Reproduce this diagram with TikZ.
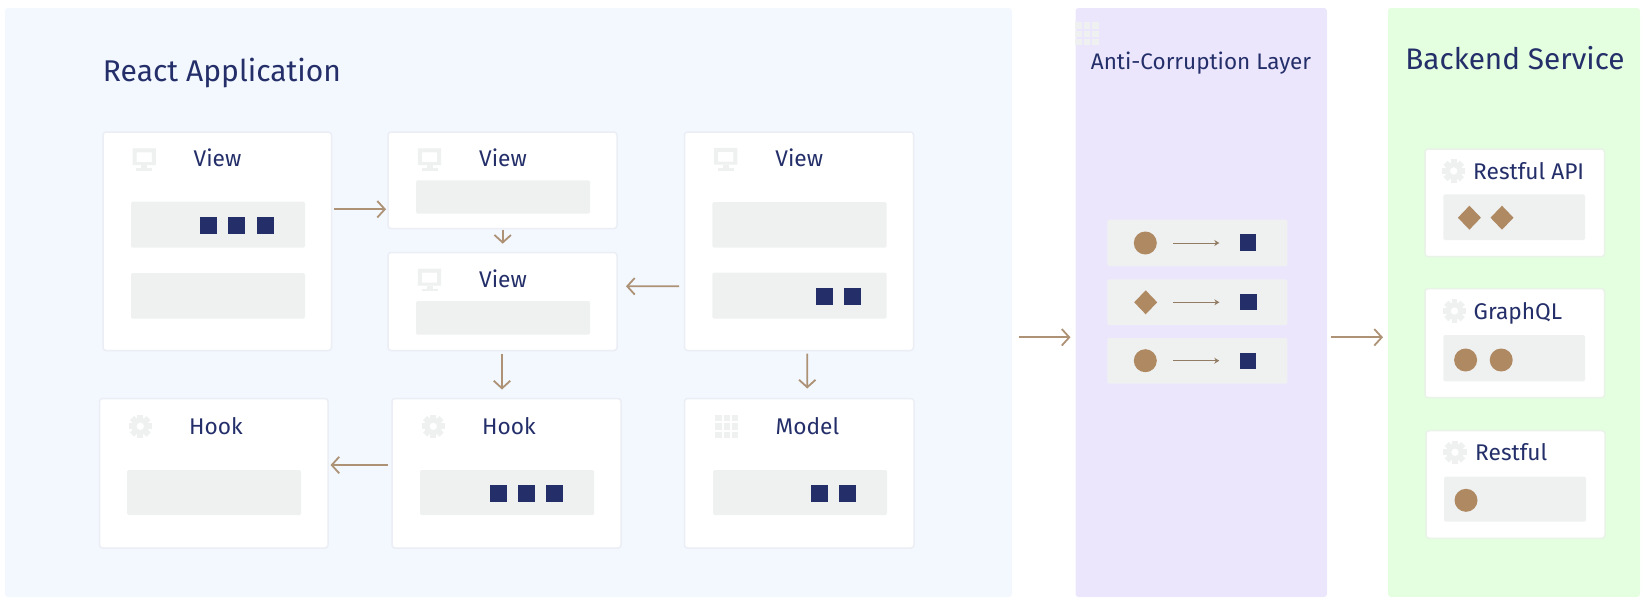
\documentclass[tikz,border=0pt]{standalone}
\usepackage{fontspec}
\setmainfont{Fira Sans}
\usetikzlibrary{arrows.meta,shapes.geometric,calc}
\definecolor{navy}{HTML}{242F6A}
\definecolor{tan}{HTML}{AE8962}
\definecolor{flowc}{HTML}{AD9276}
\definecolor{slotc}{HTML}{EFF1F1}
\definecolor{iconc}{HTML}{EEF1F0}
\definecolor{pa}{HTML}{F3F7FE}
\definecolor{pb}{HTML}{ECE6FD}
\definecolor{pc}{HTML}{E4FEE0}
\definecolor{edgea}{HTML}{EBEEF4}
\definecolor{edgeb}{HTML}{E9F3E7}
\newcommand{\boxnode}[6]{%
  \pgfmathsetmacro\bxw{#5-#3}\pgfmathsetmacro\bxh{#6-#4}%
  \node[#1,minimum width=\bxw pt,minimum height=\bxh pt] (#2) at ({(#3+#5)/2},{(#4+#6)/2}) {};}
\tikzset{
  x=1pt,y=-1pt,
  panel/.style={rectangle,rounded corners=3pt,inner sep=0pt,outer sep=0pt},
  card/.style={rectangle,rounded corners=3pt,fill=white,draw=#1,line width=1.5pt,inner sep=0pt,outer sep=0pt},
  card/.default=edgea,
  slot/.style={rectangle,rounded corners=1.5pt,fill=slotc,inner sep=0pt,outer sep=0pt},
  sq/.style={rectangle,fill=navy,minimum size=17pt,inner sep=0pt,outer sep=0pt},
  sqs/.style={rectangle,fill=navy,minimum width=16.5pt,minimum height=16.5pt,inner sep=0pt,outer sep=0pt},
  dot/.style={circle,fill=tan,minimum size=23pt,inner sep=0pt,outer sep=0pt},
  gem/.style={diamond,aspect=1,fill=tan,minimum width=23pt,minimum height=24pt,inner sep=0pt,outer sep=0pt},
  title/.style={text=navy,inner sep=0pt,font=\fontsize{#1}{#1}\selectfont,anchor=base},
  flow/.style={draw=flowc,line width=1.8pt,-{Straight Barb[length=7.5pt,width=16.5pt,line width=1.8pt]}},
  miniflow/.style={draw=flowc!85!black,line width=1pt,-{Stealth[length=5pt,width=6pt]}},
  monitoricon/.pic={
    \fill[iconc,even odd rule] (-11.6,-11.3) rectangle (11.6,5.5) (-7.6,-7.3) rectangle (7.6,2.5);
    \fill[iconc] (-3,5.5) rectangle (3,9);
    \fill[iconc] (-8,8.5) rectangle (8,11.3);
  },
  gearicon/.pic={
    \fill[iconc,even odd rule] (0,0) circle[radius=8.6] (0,0) circle[radius=3.8];
    \foreach \a in {0,45,...,315}{\fill[iconc,rotate=\a] (-2.9,-11.6) rectangle (2.9,-7.5);}
  },
  gridicon/.pic={
    \foreach \i in {-1,0,1}{\foreach \j in {-1,0,1}{
      \fill[iconc] ({\i*8.4-3.2},{\j*8.4-3.2}) rectangle ++(6.4,6.4);}}
  },
}
\begin{document}
\begin{tikzpicture}
\useasboundingbox (0,0) rectangle (1650,608);
% panels
\boxnode{panel,fill=pa}{react}{5}{8}{1012}{597}
\boxnode{panel,fill=pb}{acl}{1075.5}{8}{1327}{597}
\boxnode{panel,fill=pc}{backend}{1388}{8}{1640}{597}
\node[title=30] (treact) at (222,81) {React Application};
\node[title=22.5] (tacl) at (1201,69.3) {Anti-Corruption Layer};
\node[title=29.7] (tbackend) at (1515,69.3) {Backend Service};
% cards
\boxnode{card}{cA}{103}{132}{331.5}{350.5}
\boxnode{card}{cB}{388}{132}{617}{228.5}
\boxnode{card}{cC}{388}{252.5}{617}{350.5}
\boxnode{card}{cD}{684.5}{132}{913.5}{350.5}
\boxnode{card}{cE}{99.5}{398.5}{328}{548}
\boxnode{card}{cF}{392}{398.5}{621}{548}
\boxnode{card}{cG}{684.5}{398.5}{914}{548}
% slots
\boxnode{slot}{sA1}{131}{201.7}{305}{247.7}
\boxnode{slot}{sA2}{131}{273}{305}{318.7}
\boxnode{slot}{sB}{416}{180.3}{590}{213.7}
\boxnode{slot}{sC}{416}{301}{590}{334.7}
\boxnode{slot}{sD1}{712.3}{202}{886.7}{247.7}
\boxnode{slot}{sD2}{712.3}{272.7}{886.7}{318.7}
\boxnode{slot}{sE}{127.2}{470}{301}{515}
\boxnode{slot}{sF}{420}{470}{594}{515}
\boxnode{slot}{sG}{713}{470}{887}{515}
% squares
\node[sq] (qA1) at (208.9,225) {};
\node[sq] (qA2) at (236.8,225) {};
\node[sq] (qA3) at (265.2,225) {};
\node[sq] (qD1) at (824.3,296) {};
\node[sq] (qD2) at (852.3,296) {};
\node[sq] (qF1) at (498.4,493.5) {};
\node[sq] (qF2) at (526.2,493.5) {};
\node[sq] (qF3) at (554.2,493.5) {};
\node[sq] (qG1) at (819.3,493.5) {};
\node[sq] (qG2) at (847.3,493.5) {};
% view / hook / model labels
\node[title=22.7] (lA) at (217.5,166.7) {View};
\node[title=22.7] (lB) at (503,166.7) {View};
\node[title=22.7] (lC) at (503,287.3) {View};
\node[title=22.7] (lD) at (799.3,166.7) {View};
\node[title=22.7] (lE) at (216,434) {Hook};
\node[title=22.7] (lF) at (509,434) {Hook};
\node[title=22.7] (lG) at (807.4,434) {Model};
% icons
\pic at (144.2,159.7) {monitoricon};
\pic at (429.5,159.7) {monitoricon};
\pic at (429.5,280) {monitoricon};
\pic at (725.7,159.2) {monitoricon};
\pic at (140.3,426.3) {gearicon};
\pic at (433.3,426.3) {gearicon};
\pic at (726.7,426.3) {gridicon};
\pic at (1087,33.8) {gridicon};
% connectors inside the React panel
\draw[flow] ($(cA.east)+(2.5,-32)$) -- ($(cB.west)+(-2,29)$);
\draw[flow] ($(cB.south)+(0.2,1)$) -- ($(cC.north)+(0.2,-8.8)$);
\draw[flow] ($(cD.west)+(-5.5,45)$) -- ($(cC.east)+(9,-15.2)$);
\draw[flow] ($(cC.south)+(-0.5,3)$) -- ($(cF.north)+(-4.5,-9)$);
\draw[flow] ($(cD.south)+(8.3,3)$) -- ($(cG.north)+(8,-10)$);
\draw[flow] ($(cF.west)+(-4,-8.2)$) -- ($(cE.east)+(2.5,-8.2)$);
% connectors between panels
\draw[flow] ($(react.east)+(7,34.8)$) -- ($(acl.west)+(-5,34.8)$);
\draw[flow] ($(acl.east)+(4.3,34.8)$) -- ($(backend.west)+(-5,34.8)$);
% anti-corruption rows
\boxnode{slot}{r1}{1107.4}{219.7}{1287.3}{266}
\boxnode{slot}{r2}{1107.4}{279.3}{1287.3}{325}
\boxnode{slot}{r3}{1107.4}{338}{1287.3}{383.7}
\node[dot] (a1) at (1145.3,243) {};
\node[gem] (a2) at (1145.7,302.3) {};
\node[dot] (a3) at (1145.3,360.7) {};
\node[sqs] (b1) at (1248,242.7) {};
\node[sqs] (b2) at (1248.6,302) {};
\node[sqs] (b3) at (1248,361) {};
\draw[miniflow] ($(a1.east)+(16.3,0)$) -- ($(b1.west)+(-20.5,0.3)$);
\draw[miniflow] ($(a2.east)+(16,0)$) -- ($(b2.west)+(-21,0.3)$);
\draw[miniflow] ($(a3.east)+(16.3,0)$) -- ($(b3.west)+(-20.5,-0.3)$);
% backend cards
\boxnode{card=edgeb}{k1}{1425}{149}{1604.5}{256.7}
\boxnode{card=edgeb}{k2}{1425}{288.7}{1604.5}{397.7}
\boxnode{card=edgeb}{k3}{1426}{430.7}{1605}{538.3}
\boxnode{slot}{t1}{1443.4}{194.3}{1585}{240}
\boxnode{slot}{t2}{1443.4}{335}{1585}{381.3}
\boxnode{slot}{t3}{1444}{476.7}{1586}{521.7}
\pic at (1453.7,171) {gearicon};
\pic at (1454.5,311) {gearicon};
\pic at (1455,452.3) {gearicon};
\node[title=22.7,anchor=base west] (lk1) at (1473,179) {Restful API};
\node[title=22.7,anchor=base west] (lk2) at (1473.5,319) {GraphQL};
\node[title=22.7,anchor=base west] (lk3) at (1475,460.3) {Restful};
\node[gem] (g1) at (1469.4,217.7) {};
\node[gem] (g2) at (1502,217.7) {};
\node[dot] (g3) at (1465.6,360) {};
\node[dot] (g4) at (1501.2,360) {};
\node[dot] (g5) at (1466,500.3) {};
\end{tikzpicture}
\end{document}
